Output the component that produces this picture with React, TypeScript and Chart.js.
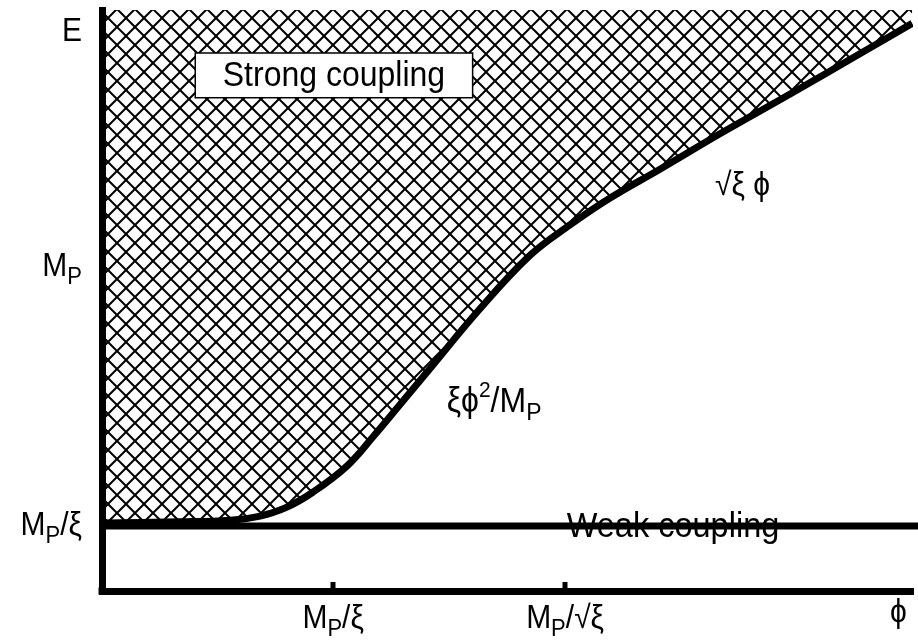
import { useEffect, useRef } from 'react';
import { Chart, registerables } from 'chart.js';

Chart.register(...registerables);

// ---- data (arbitrary axis units 0..100) ----
const X_MIN = 0;
const X_MAX = 100;
const Y_MIN = 0;
const Y_MAX = 100;

const curveX = [0, 9.6, 15.8, 19.5, 22.6, 26.0, 30.2, 33.4, 36.7, 40.4, 46.5, 52.8, 57.7, 62.6, 68.8, 76.2, 84.8, 93.5, 99.9];
const curveY = [11.7, 11.9, 12.2, 12.9, 14.3, 17.0, 21.5, 26.5, 32.0, 38.2, 48.4, 57.8, 63.0, 67.6, 72.6, 78.7, 85.5, 92.5, 97.7];

const weakX = [0, 100.7];
const weakY = [11.2, 11.2];

const xTickValues = [28.5, 57.1];
const xTickLabels = ['M_{P}/ξ', 'M_{P}/√ξ'];
const xEndLabel = 'ϕ';
const xEndValue = 98.2;

const yTickValues = [11.6, 56.1, 96.6];
const yTickLabels = ['M_{P}/ξ', 'M_{P}', 'E'];

const strongLabel = 'Strong coupling';
const strongBoxX = [11.5, 45.7];
const strongBoxY = [84.9, 92.6];
const weakLabel = 'Weak coupling';
const weakLabelPos = [57.3, 9.3];
const quadLabel = 'ξϕ^{2}/M_{P}';
const quadLabelPos = [42.5, 30.8];
const linLabel = '√ξ ϕ';
const linLabelPos = [75.6, 68.2];

// ---- helpers ----
const FONT = '"Liberation Sans", Arial, sans-serif';
const SY = 1.08;

type Part = { t: string; size: number; dy: number };

function parseRich(s: string, base: number): Part[] {
  const parts: Part[] = [];
  let i = 0;
  let buf = '';
  const flush = () => {
    if (buf) parts.push({ t: buf, size: base, dy: 0 });
    buf = '';
  };
  while (i < s.length) {
    if ((s[i] === '_' || s[i] === '^') && s[i + 1] === '{') {
      flush();
      const end = s.indexOf('}', i);
      const t = s.slice(i + 2, end);
      if (s[i] === '_') parts.push({ t, size: Math.round(base * 0.73), dy: 8 });
      else parts.push({ t, size: Math.round(base * 0.67), dy: -15 });
      i = end + 1;
    } else {
      buf += s[i];
      i++;
    }
  }
  flush();
  return parts;
}

function drawRich(ctx: CanvasRenderingContext2D, s: string, x: number, y: number, align: 'left' | 'right' | 'center', base = 30) {
  const parts = parseRich(s, base);
  let total = 0;
  const widths = parts.map((p) => {
    ctx.font = `${p.size}px ${FONT}`;
    const w = ctx.measureText(p.t).width;
    total += w;
    return w;
  });
  let cx = align === 'right' ? x - total : align === 'center' ? x - total / 2 : x;
  parts.forEach((p, k) => {
    ctx.save();
    ctx.font = `${p.size}px ${FONT}`;
    ctx.fillStyle = '#000';
    ctx.textAlign = 'left';
    ctx.textBaseline = 'alphabetic';
    ctx.translate(cx, y + p.dy);
    ctx.scale(1, SY);
    ctx.fillText(p.t, 0, 0);
    ctx.restore();
    cx += widths[k];
  });
}

function makeHatch(size: number): CanvasPattern | string {
  const pc = document.createElement('canvas');
  pc.width = size;
  pc.height = size;
  const p = pc.getContext('2d');
  if (!p) return '#888';
  p.strokeStyle = '#000';
  p.lineWidth = 2;
  for (const o of [-size, 0, size]) {
    p.beginPath();
    p.moveTo(o - size, -size);
    p.lineTo(o + 2 * size, 2 * size);
    p.stroke();
    p.beginPath();
    p.moveTo(o + 2 * size, -size);
    p.lineTo(o - size, 2 * size);
    p.stroke();
  }
  const main = document.createElement('canvas').getContext('2d');
  const pat = main ? main.createPattern(pc, 'repeat') : null;
  return pat || '#888';
}

const labelsPlugin = {
  id: 'physLabels',
  afterDatasetsDraw(chart: any) {
    const ctx: CanvasRenderingContext2D = chart.ctx;
    const xs = chart.scales.x;
    const ys = chart.scales.y;
    const area = chart.chartArea;
    ctx.save();

    ctx.fillStyle = '#000';
    ctx.fillRect(area.left - 3.5, area.bottom - 3.5, 7, 7);

    ctx.strokeStyle = '#000';
    ctx.lineWidth = 5;
    xTickValues.forEach((v) => {
      const px = Math.round(xs.getPixelForValue(v));
      ctx.beginPath();
      ctx.moveTo(px, area.bottom);
      ctx.lineTo(px, area.bottom - 9);
      ctx.stroke();
    });

    xTickValues.forEach((v, k) => {
      drawRich(ctx, xTickLabels[k], xs.getPixelForValue(v), area.bottom + 37, 'center');
    });
    drawRich(ctx, xEndLabel, xs.getPixelForValue(xEndValue), area.bottom + 31, 'center');

    yTickValues.forEach((v, k) => {
      drawRich(ctx, yTickLabels[k], area.left - 20, ys.getPixelForValue(v) + 11, 'right');
    });

    const bx0 = xs.getPixelForValue(strongBoxX[0]);
    const bx1 = xs.getPixelForValue(strongBoxX[1]);
    const by0 = ys.getPixelForValue(strongBoxY[1]);
    const by1 = ys.getPixelForValue(strongBoxY[0]);
    ctx.fillStyle = '#fff';
    ctx.fillRect(bx0, by0, bx1 - bx0, by1 - by0);
    ctx.strokeStyle = '#000';
    ctx.lineWidth = 1.5;
    ctx.strokeRect(bx0, by0, bx1 - bx0, by1 - by0);
    drawRich(ctx, strongLabel, (bx0 + bx1) / 2, (by0 + by1) / 2 + 11, 'center', 32);

    drawRich(ctx, weakLabel, xs.getPixelForValue(weakLabelPos[0]), ys.getPixelForValue(weakLabelPos[1]), 'left', 32.5);
    drawRich(ctx, quadLabel, xs.getPixelForValue(quadLabelPos[0]), ys.getPixelForValue(quadLabelPos[1]), 'left', 32);
    drawRich(ctx, linLabel, xs.getPixelForValue(linLabelPos[0]), ys.getPixelForValue(linLabelPos[1]), 'left', 30);

    ctx.restore();
  },
};

export default function App() {
  const ref = useRef<HTMLCanvasElement | null>(null);

  useEffect(() => {
    const canvas = ref.current;
    if (!canvas) return;
    const hatch = makeHatch(18);
    const chart = new Chart(canvas, {
      type: 'line',
      data: {
        datasets: [
          {
            label: 'boundary',
            data: curveX.map((x, i) => ({ x, y: curveY[i] })),
            borderColor: '#000',
            borderWidth: 7,
            pointRadius: 0,
            tension: 0.4,
            fill: 'end',
            backgroundColor: hatch as any,
            order: 1,
          },
          {
            label: 'weak',
            data: weakX.map((x, i) => ({ x, y: weakY[i] })),
            borderColor: '#000',
            borderWidth: 7,
            pointRadius: 0,
            fill: false,
            clip: { left: 5, top: 5, right: 10, bottom: 5 } as any,
            order: 0,
          },
        ],
      },
      options: {
        animation: false,
        responsive: false,
        devicePixelRatio: 1,
        layout: { padding: { top: 10, right: 5, left: 0, bottom: 0 } },
        plugins: { legend: { display: false }, tooltip: { enabled: false } },
        scales: {
          x: {
            type: 'linear',
            position: 'bottom',
            min: X_MIN,
            max: X_MAX,
            grid: { display: false },
            ticks: { display: false },
            border: { display: true, width: 7, color: '#000' },
            afterFit: (s: any) => {
              s.height = 49;
            },
          },
          y: {
            type: 'linear',
            min: Y_MIN,
            max: Y_MAX,
            grid: { display: false },
            ticks: { display: false },
            border: { display: true, width: 7, color: '#000' },
            afterFit: (s: any) => {
              s.width = 102;
            },
          },
        },
      } as any,
      plugins: [labelsPlugin],
    });
    return () => chart.destroy();
  }, []);

  return (
    <div style={{ position: 'fixed', left: 0, top: 0, width: 918, height: 640, background: '#fff' }}>
      <canvas ref={ref} width={918} height={640} style={{ display: 'block' }} />
    </div>
  );
}
